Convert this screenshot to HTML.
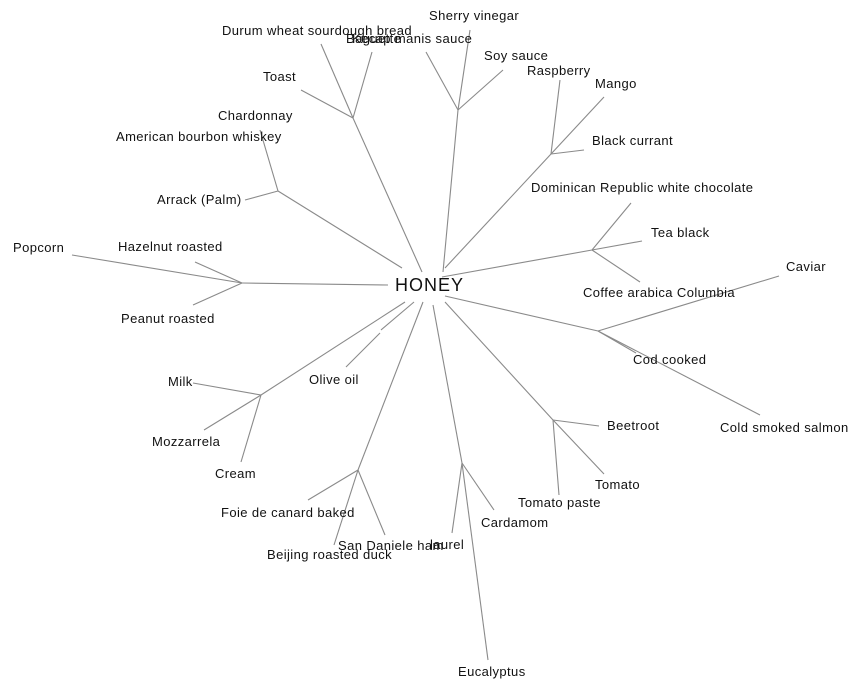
<!DOCTYPE html>
<html><head><meta charset="utf-8"><style>
html,body{margin:0;padding:0;background:#fff;width:864px;height:689px;overflow:hidden}
svg text{font-family:"Liberation Sans",Arial,sans-serif;font-size:13px;letter-spacing:0.4px;fill:#111}
</style></head><body>
<svg width="864" height="689" xmlns="http://www.w3.org/2000/svg">
<g stroke="#8a8a8a" stroke-width="1.1" fill="none">
<line x1="422" y1="272" x2="353" y2="118"/>
<line x1="321" y1="44" x2="353" y2="118"/>
<line x1="372" y1="52" x2="353" y2="118"/>
<line x1="301" y1="90" x2="353" y2="118"/>
<line x1="443" y1="272" x2="458" y2="110"/>
<line x1="426" y1="52" x2="458" y2="110"/>
<line x1="470" y1="30" x2="458" y2="110"/>
<line x1="503" y1="70" x2="458" y2="110"/>
<line x1="445" y1="268" x2="551" y2="154"/>
<line x1="560" y1="80" x2="551" y2="154"/>
<line x1="604" y1="97" x2="551" y2="154"/>
<line x1="584" y1="150" x2="551" y2="154"/>
<line x1="442" y1="277" x2="592" y2="250"/>
<line x1="631" y1="203" x2="592" y2="250"/>
<line x1="642" y1="241" x2="592" y2="250"/>
<line x1="640" y1="282" x2="592" y2="250"/>
<line x1="445" y1="296" x2="598" y2="331"/>
<line x1="779" y1="276" x2="598" y2="331"/>
<line x1="636" y1="353" x2="598" y2="331"/>
<line x1="760" y1="415" x2="598" y2="331"/>
<line x1="445" y1="302" x2="553" y2="420"/>
<line x1="599" y1="426" x2="553" y2="420"/>
<line x1="604" y1="474" x2="553" y2="420"/>
<line x1="559" y1="495" x2="553" y2="420"/>
<line x1="433" y1="305" x2="462" y2="463"/>
<line x1="452" y1="533" x2="462" y2="463"/>
<line x1="488" y1="660" x2="462" y2="463"/>
<line x1="494" y1="510" x2="462" y2="463"/>
<line x1="423" y1="302" x2="358" y2="470"/>
<line x1="308" y1="500" x2="358" y2="470"/>
<line x1="334" y1="545" x2="358" y2="470"/>
<line x1="385" y1="535" x2="358" y2="470"/>
<line x1="414" y1="302" x2="381" y2="330"/>
<line x1="380" y1="333" x2="346" y2="367"/>
<line x1="405" y1="302" x2="261" y2="395"/>
<line x1="193" y1="383" x2="261" y2="395"/>
<line x1="204" y1="430" x2="261" y2="395"/>
<line x1="241" y1="462" x2="261" y2="395"/>
<line x1="388" y1="285" x2="242" y2="283"/>
<line x1="72" y1="255" x2="242" y2="283"/>
<line x1="195" y1="262" x2="242" y2="283"/>
<line x1="193" y1="305" x2="242" y2="283"/>
<line x1="402" y1="268" x2="278" y2="191"/>
<line x1="260" y1="130" x2="278" y2="191"/>
<line x1="245" y1="200" x2="278" y2="191"/>
</g>
<text x="395" y="291" style="font-size:18px;letter-spacing:1px">HONEY</text>
<text x="222" y="35">Durum wheat sourdough bread</text>
<text x="346" y="43">Baguette</text>
<text x="352" y="43">Kecap manis sauce</text>
<text x="429" y="20">Sherry vinegar</text>
<text x="484" y="60">Soy sauce</text>
<text x="527" y="75">Raspberry</text>
<text x="595" y="88">Mango</text>
<text x="592" y="145">Black currant</text>
<text x="531" y="192">Dominican Republic white chocolate</text>
<text x="651" y="237">Tea black</text>
<text x="583" y="297">Coffee arabica Columbia</text>
<text x="786" y="271">Caviar</text>
<text x="633" y="364">Cod cooked</text>
<text x="720" y="432">Cold smoked salmon</text>
<text x="607" y="430">Beetroot</text>
<text x="595" y="489">Tomato</text>
<text x="518" y="507">Tomato paste</text>
<text x="481" y="527">Cardamom</text>
<text x="430" y="549">laurel</text>
<text x="338" y="550">San Daniele ham</text>
<text x="267" y="559">Beijing roasted duck</text>
<text x="221" y="517">Foie de canard baked</text>
<text x="458" y="676">Eucalyptus</text>
<text x="309" y="384">Olive oil</text>
<text x="168" y="386">Milk</text>
<text x="152" y="446">Mozzarrela</text>
<text x="215" y="478">Cream</text>
<text x="13" y="252">Popcorn</text>
<text x="118" y="251">Hazelnut roasted</text>
<text x="121" y="323">Peanut roasted</text>
<text x="157" y="204">Arrack (Palm)</text>
<text x="116" y="141">American bourbon whiskey</text>
<text x="218" y="120">Chardonnay</text>
<text x="263" y="81">Toast</text>
</svg>
</body></html>
